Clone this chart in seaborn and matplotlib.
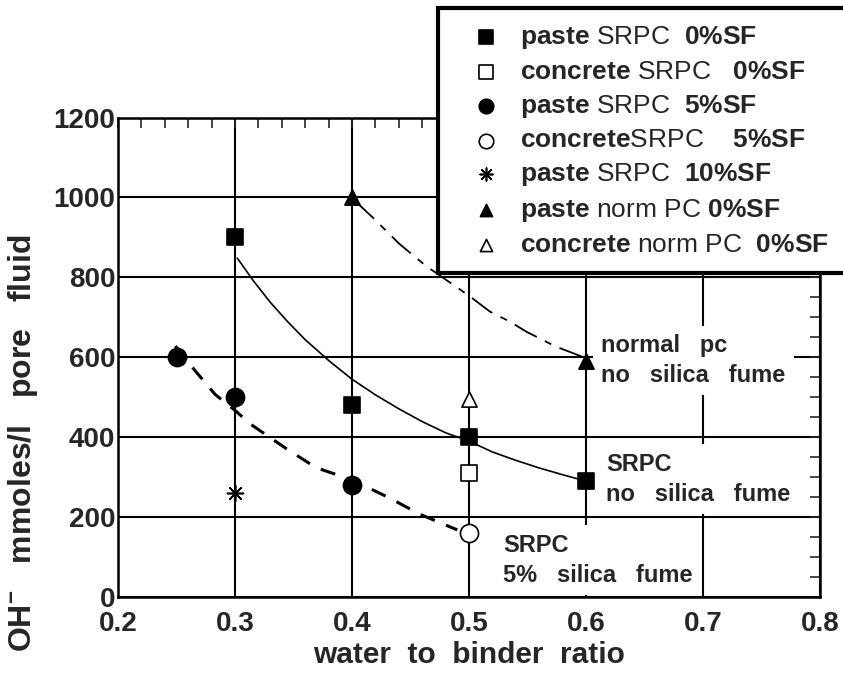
import matplotlib
matplotlib.use("Agg")
import matplotlib.pyplot as plt
from matplotlib.ticker import MultipleLocator
import seaborn as sns

# DATA: OH- concentration in pore fluid against water/binder ratio
# measured points
paste_srpc_0sf_wb = [0.3, 0.4, 0.5, 0.6]
paste_srpc_0sf_oh = [900, 480, 400, 290]
concrete_srpc_0sf_wb = [0.5]
concrete_srpc_0sf_oh = [310]
paste_srpc_5sf_wb = [0.25, 0.3, 0.4]
paste_srpc_5sf_oh = [600, 500, 280]
concrete_srpc_5sf_wb = [0.5]
concrete_srpc_5sf_oh = [160]
paste_srpc_10sf_wb = [0.3]
paste_srpc_10sf_oh = [260]
paste_npc_0sf_wb = [0.4, 0.6]
paste_npc_0sf_oh = [1000, 590]
concrete_npc_0sf_wb = [0.5]
concrete_npc_0sf_oh = [495]

# trend curves
curve_srpc_0sf_wb = [0.302, 0.315, 0.33, 0.345, 0.36, 0.38, 0.40, 0.42, 0.44, 0.46,
                     0.48, 0.50, 0.52, 0.54, 0.56, 0.58, 0.60]
curve_srpc_0sf_oh = [848, 794, 738, 689, 644, 592, 545, 506, 471, 439,
                     411, 390, 363, 342, 323, 306, 290]
curve_srpc_5sf_wb = [0.249, 0.266, 0.283, 0.30, 0.314, 0.343, 0.369, 0.40, 0.432, 0.458, 0.49]
curve_srpc_5sf_oh = [628, 566, 507, 467, 431, 373, 324, 293, 248, 207, 168]
curve_npc_0sf_wb = [0.403, 0.418, 0.44, 0.463, 0.50, 0.518, 0.535, 0.549, 0.574, 0.598]
curve_npc_0sf_oh = [990, 949, 885, 829, 754, 714, 689, 664, 627, 600]

legend_labels = [
    r"$\mathbf{paste}$ SRPC  $\mathbf{0\%SF}$",
    r"$\mathbf{concrete}$ SRPC   $\mathbf{0\%SF}$",
    r"$\mathbf{paste}$ SRPC  $\mathbf{5\%SF}$",
    r"$\mathbf{concrete}$SRPC    $\mathbf{5\%SF}$",
    r"$\mathbf{paste}$ SRPC  $\mathbf{10\%SF}$",
    r"$\mathbf{paste}$ norm PC $\mathbf{0\%SF}$",
    r"$\mathbf{concrete}$ norm PC  $\mathbf{0\%SF}$",
]

x_ticks = [0.2, 0.3, 0.4, 0.5, 0.6, 0.7, 0.8]
x_tick_labels = ["0.2", "0.3", "0.4", "0.5", "0.6", "0.7", "0.8"]
y_ticks = [0, 200, 400, 600, 800, 1000, 1200]
y_tick_labels = ["0", "200", "400", "600", "800", "1000", "1200"]

# STYLE
sns.set_style("white")
plt.rcParams["font.family"] = ["Liberation Sans", "DejaVu Sans"]
plt.rcParams["mathtext.fontset"] = "custom"
plt.rcParams["mathtext.rm"] = "Liberation Sans"
plt.rcParams["mathtext.bf"] = "Liberation Sans:bold"
plt.rcParams["mathtext.it"] = "Liberation Sans:italic"
plt.rcParams["mathtext.sf"] = "Liberation Sans"

fig = plt.figure(figsize=(8.43, 6.74), dpi=100)
ax = fig.add_axes([118 / 843, 1 - 597 / 674, 702 / 843, 479.5 / 674])

# trend curves
sns.lineplot(x=curve_srpc_0sf_wb, y=curve_srpc_0sf_oh, color="black", lw=1.2,
             sort=False, legend=False, ax=ax, zorder=3)
sns.lineplot(x=curve_srpc_5sf_wb, y=curve_srpc_5sf_oh, color="black", lw=2.2,
             linestyle=(0, (5, 4)), sort=False, legend=False, ax=ax, zorder=3)
sns.lineplot(x=curve_npc_0sf_wb, y=curve_npc_0sf_oh, color="black", lw=1.3,
             linestyle=(0, (14, 5, 4, 5)), sort=False, legend=False, ax=ax, zorder=3)

# measured points: (x, y, marker, face colour, size)
series = [
    (paste_srpc_0sf_wb, paste_srpc_0sf_oh, "s", "black", 140),
    (concrete_srpc_0sf_wb, concrete_srpc_0sf_oh, "s", "white", 140),
    (paste_srpc_5sf_wb, paste_srpc_5sf_oh, "o", "black", 170),
    (concrete_srpc_5sf_wb, concrete_srpc_5sf_oh, "o", "white", 170),
    (paste_srpc_10sf_wb, paste_srpc_10sf_oh, (8, 2, 0), "black", 130),
    (paste_npc_0sf_wb, paste_npc_0sf_oh, "^", "black", 120),
    (concrete_npc_0sf_wb, concrete_npc_0sf_oh, "^", "white", 120),
]
for (wb, oh, mk, face, size), lab in zip(series, legend_labels):
    sns.scatterplot(x=wb, y=oh, marker=mk, s=size, color=face, edgecolor="black",
                    linewidth=1.2, label=lab, legend=False, ax=ax, zorder=5)

# annotations (white box hides the grid behind them)
note_kw = dict(fontsize=17, fontweight="bold", ha="left", va="center", linespacing=1.4,
               zorder=3, bbox=dict(boxstyle="square,pad=0.35", fc="white", ec="none"))
ax.text(0.613, 592, "normal   pc\nno   silica   fume", **note_kw)
ax.text(0.617, 295, "SRPC\nno   silica   fume", **note_kw)
ax.text(0.529, 92, "SRPC\n5%   silica   fume", **note_kw)

# AXES
ax.set_xlim(0.2, 0.8)
ax.set_ylim(0, 1200)
ax.set_xticks(x_ticks)
ax.set_xticklabels(x_tick_labels, fontsize=20, fontweight="bold")
ax.set_yticks(y_ticks)
ax.set_yticklabels(y_tick_labels, fontsize=20, fontweight="bold")
ax.xaxis.set_minor_locator(MultipleLocator(0.02))
ax.yaxis.set_minor_locator(MultipleLocator(50))
ax.tick_params(which="both", direction="in", top=True, right=True, length=7, width=1.2)
ax.tick_params(axis="x", which="major", pad=10)
ax.tick_params(axis="y", which="major", pad=2)
ax.grid(True, which="major", color="black", lw=1.5)
for sp in ax.spines.values():
    sp.set_linewidth(1.8)
    sp.set_color("black")

ax.set_xlabel("water  to  binder  ratio", fontsize=21.5, fontweight="bold", labelpad=3)
ax.set_ylabel(r"OH$^{\mathbf{-}}$   mmoles/l   pore   fluid", fontsize=23, fontweight="bold")
ax.yaxis.set_label_coords(-0.111, 0.321)

# LEGEND
leg = ax.legend(loc="upper left", bbox_to_anchor=(438 / 843, 1 - 8 / 674),
                bbox_transform=fig.transFigure, frameon=True, fancybox=False,
                edgecolor="black", framealpha=1, borderaxespad=0,
                prop=dict(family="Liberation Sans", size=19), handlelength=2.4,
                handletextpad=0.1, labelspacing=0.33, borderpad=0.62, markerscale=0.8)
leg.get_frame().set_linewidth(3)

# OUTPUT
fig.savefig("out.png", dpi=100)
